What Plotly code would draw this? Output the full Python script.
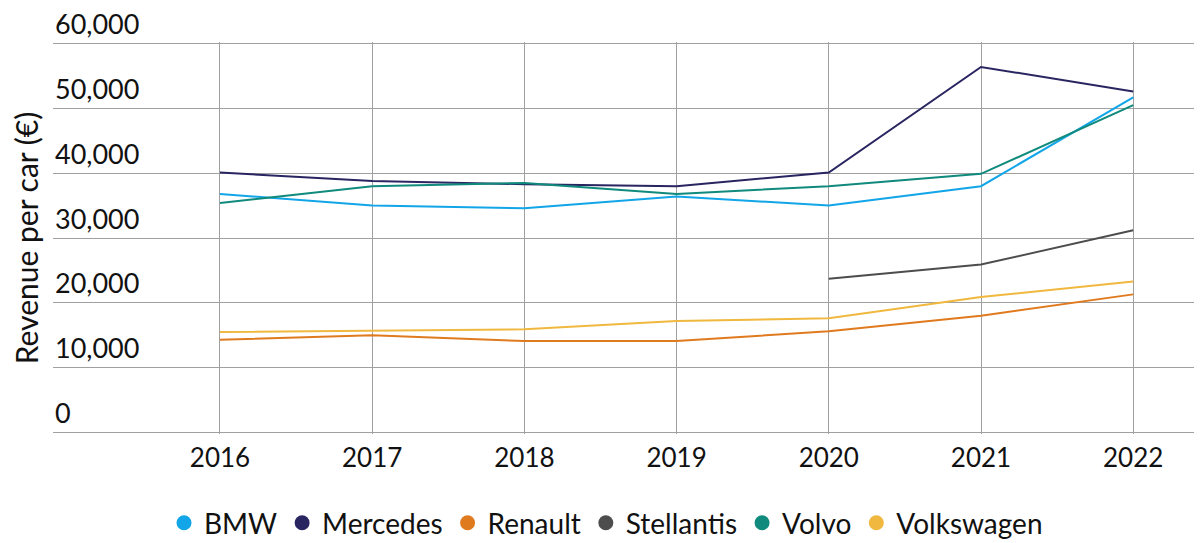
# Revenue per car by manufacturer, 2016-2022
import plotly.graph_objects as go

years = ['2016', '2017', '2018', '2019', '2020', '2021', '2022']

bmw = [36800, 35000, 34600, 36400, 35000, 38000, 51700]
mercedes = [40100, 38800, 38300, 38000, 40100, 56400, 52600]
renault = [14300, 15000, 14100, 14100, 15600, 18000, 21300]
stellantis = [None, None, None, None, 23700, 25900, 31200]
volvo = [35400, 38000, 38500, 36800, 38000, 39900, 50500]
volkswagen = [15500, 15700, 15900, 17200, 17600, 20900, 23300]

y_ticks = [0, 10000, 20000, 30000, 40000, 50000, 60000]

series = [
    ('BMW', bmw, '#12a5e8'),
    ('Mercedes', mercedes, '#282560'),
    ('Renault', renault, '#e07a1f'),
    ('Stellantis', stellantis, '#4d4d4d'),
    ('Volvo', volvo, '#0f8a7c'),
    ('Volkswagen', volkswagen, '#f0b83e'),
]

font_name = 'Lato'
text_col = '#111111'

fig = go.Figure()
for name, vals, col in series:
    fig.add_trace(go.Scatter(x=years, y=vals, name=name, mode='lines',
                             line=dict(color=col, width=2),
                             showlegend=False))
# legend entries are plain dots
for name, vals, col in series:
    fig.add_trace(go.Scatter(x=[None], y=[None], name=name, mode='markers',
                             marker=dict(color=col, size=15)))

# y tick labels sit above their gridlines, left aligned
for v in y_ticks:
    fig.add_annotation(x=0, xref='paper', xanchor='left', y=v, yref='y',
                       yanchor='middle', yshift=20, text=f'{v:,}', showarrow=False,
                       font=dict(size=27, color=text_col))

# page body has an 8px margin, so the figure is a little smaller than the window
fig.update_layout(
    width=1194, height=535,
    margin=dict(l=45, r=0, t=34, b=109, autoexpand=False),
    plot_bgcolor='white', paper_bgcolor='white',
    font=dict(family=font_name, size=26, color=text_col),
    legend=dict(orientation='h', x=0.4813, xanchor='center', y=-0.2273, yanchor='middle',
                font=dict(size=28), itemwidth=30, tracegroupgap=0),
)
fig.update_xaxes(
    type='category', range=[-1.097, 6.452], automargin=False,
    showgrid=True, gridcolor='#a0a0a0', gridwidth=1,
    zeroline=False, showline=False, ticks='',
    ticklabelstandoff=6,
)
# small padding so the 0 and 60,000 gridlines are still drawn
fig.update_yaxes(
    range=[-250, 60250], tickvals=y_ticks, automargin=False,
    showgrid=True, gridcolor='#a0a0a0', gridwidth=1,
    zeroline=False, showline=False, ticks='', showticklabels=False,
    title=dict(text='Revenue per car (€)', font=dict(size=30), standoff=14),
)

fig.write_html('out.html')
